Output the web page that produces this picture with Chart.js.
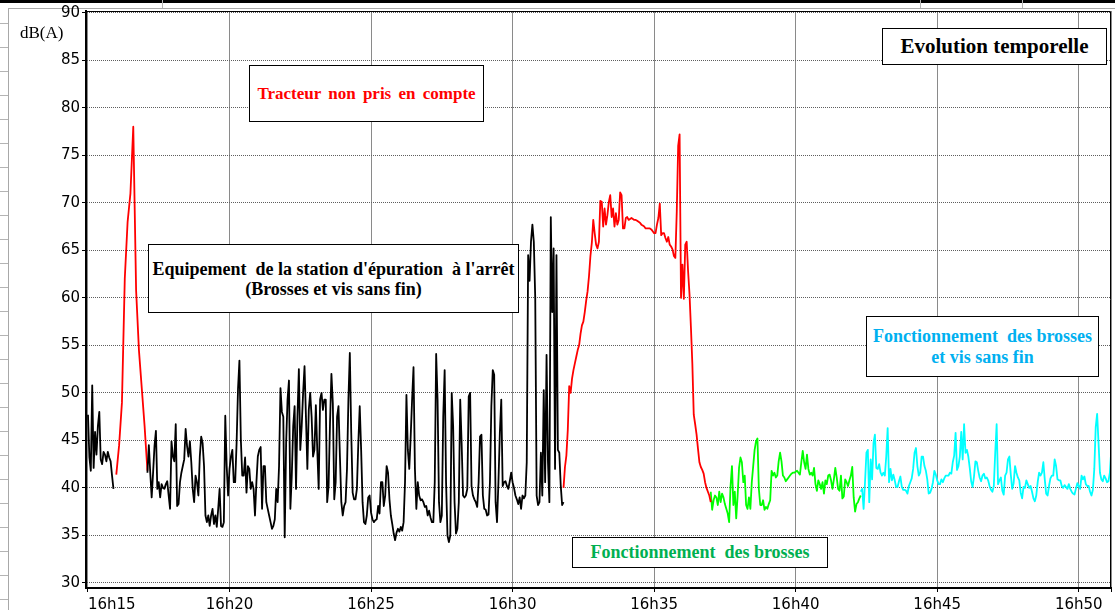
<!DOCTYPE html>
<html lang="fr">
<head>
<meta charset="utf-8">
<title>Evolution temporelle</title>
<script src="https://cdn.jsdelivr.net/npm/chart.js@4.4.1/dist/chart.umd.min.js"></script>
<style>
  html, body { margin: 0; padding: 0; background: #fff; }
  #page { position: relative; width: 1115px; height: 610px; overflow: hidden; background: #fff; }
  #sheetTop { position: absolute; left: 0; top: 0; width: 1115px; height: 3px; background: #000; }
  #rowMarks { position: absolute; left: 0; top: 0; width: 8px; height: 610px;
    background: repeating-linear-gradient(to bottom, transparent 0, transparent 23px, #b4b4b4 23px, #b4b4b4 24px); }
  .colMark { position: absolute; top: 0; width: 1px; height: 8px; background: #b4b4b4; }
  #frame { position: absolute; left: 8px; top: 8px; width: 1200px; height: 700px;
    border-left: 1px solid #a8a8a8; border-top: 1px solid #a8a8a8; }
  canvas { position: absolute; left: 0; top: 0; }
  #unit { position: absolute; left: 20px; top: 23px; font: 17px "Liberation Serif", "Times New Roman", serif; color: #000; }
  .note { position: absolute; box-sizing: border-box; border: 1px solid #000; background: #fff;
    font-family: "Liberation Serif", "Times New Roman", serif; font-weight: bold;
    display: flex; flex-direction: column; justify-content: center; align-items: center;
    white-space: pre; text-align: center; }
</style>
</head>
<body>
<div id="page">
  <div id="sheetTop"></div>
  <div id="rowMarks"></div>
  <div class="colMark" style="left:162px"></div>
  <div class="colMark" style="left:920px"></div>
  <div class="colMark" style="left:1022px"></div>
  <div id="frame"></div>
  <canvas id="chart" width="1115" height="610"></canvas>
  <div id="unit">dB(A)</div>

  <div class="note" style="left:882px;top:28px;width:225px;height:37px;font-size:21px;color:#000;">Evolution temporelle</div>
  <div class="note" style="left:249px;top:65px;width:235px;height:57px;font-size:17px;word-spacing:3px;color:#ff0000;">Tracteur non pris en compte</div>
  <div class="note" style="left:148px;top:244px;width:371px;height:69px;font-size:18px;line-height:20px;color:#000;"><span>Equipement  de la station d'épuration  à l'arrêt</span><span>(Brosses et vis sans fin)</span></div>
  <div class="note" style="left:866px;top:316px;width:233px;height:61px;font-size:18px;line-height:21px;color:#00b0f0;"><span>Fonctionnement  des brosses</span><span>et vis sans fin</span></div>
  <div class="note" style="left:572px;top:537px;width:256px;height:31px;font-size:18px;color:#00b050;">Fonctionnement  des brosses</div>
</div>

<script>
// Sound level readings in dB(A); times are minutes after 16h00.
const FINE_STEP = 0.05;   // minutes between readings (3 s)
const COARSE_STEP = 0.1;  // minutes between readings on the tractor pass-by (6 s)

// Station idle, first minute (black)
const idleEarlyStart = 15.0;
const idleEarly = [
  47.7, 43.2, 41.8, 50.8, 42.1, 45.9, 43.5, 46.5, 48.0, 43.0,
  42.5, 43.8, 43.5, 42.8, 43.8, 43.2, 42.8, 41.3, 39.9
];

// Tractor passing by (red)
const tractorPassStart = 16.0;
const tractorPass = [41.4, 44.5, 49.0, 62.0, 68.0, 71.0, 78.0, 60.8, 54.5, 50.5, 46.5, 41.8];

// Station idle (black)
const idleStart = 17.1;
const idle = [
  41.6, 44.5, 41.6, 39.0, 41.6, 44.4, 46.0, 39.9, 40.6, 39.0,
  40.4, 40.0, 39.9, 40.4, 40.7, 39.2, 37.8, 44.9, 43.3, 42.8,
  46.7, 38.1, 38.3, 40.6, 41.6, 42.3, 43.0, 46.2, 44.4, 43.3,
  44.9, 42.7, 39.9, 38.5, 41.3, 40.6, 39.2, 43.3, 45.4, 44.7,
  42.3, 37.1, 36.4, 37.1, 36.0, 37.1, 37.8, 36.2, 37.1, 35.9,
  37.8, 39.9, 36.0, 35.9, 36.4, 47.6, 42.3, 39.2, 42.0, 43.3,
  44.0, 40.6, 40.6, 44.7, 50.4, 53.4, 45.1, 41.3, 41.3, 43.2,
  39.5, 42.3, 42.0, 39.9, 40.6, 39.9, 37.1, 40.6, 43.3, 44.0,
  44.3, 37.8, 42.3, 42.3, 38.5, 37.8, 37.1, 36.4, 35.7, 36.0,
  36.7, 39.9, 38.5, 42.3, 50.5, 48.0, 47.5, 34.8, 44.7, 49.3,
  51.3, 37.8, 41.3, 46.5, 48.6, 39.9, 47.5, 52.5, 44.0, 46.5,
  50.0, 52.8, 47.5, 42.0, 48.2, 50.0, 47.5, 43.3, 44.0, 48.7,
  44.0, 39.9, 49.3, 50.0, 48.2, 49.3, 49.3, 38.5, 40.2, 46.8,
  52.0, 48.9, 38.8, 40.6, 47.5, 48.6, 43.3, 38.5, 37.1, 38.1,
  38.5, 42.0, 49.3, 54.2, 45.8, 39.5, 38.8, 38.8, 39.9, 44.7,
  48.6, 44.0, 38.5, 36.4, 36.2, 37.1, 39.0, 39.2, 37.4, 36.7,
  36.4, 36.6, 36.7, 38.1, 37.3, 40.6, 40.6, 38.1, 39.2, 42.3,
  41.6, 38.8, 37.1, 36.2, 35.2, 34.5, 35.3, 35.7, 35.4, 35.9,
  35.5, 36.4, 40.6, 49.8, 44.0, 42.0, 45.4, 49.3, 52.7, 42.0,
  37.8, 40.6, 39.2, 38.7, 38.8, 38.5, 38.0, 38.1, 37.1, 37.6,
  36.9, 36.4, 36.4, 40.6, 54.1, 49.3, 38.5, 36.4, 37.1, 47.5,
  52.4, 40.6, 35.0, 34.3, 35.0, 50.0, 46.5, 38.5, 35.2, 35.7,
  38.5, 49.3, 44.7, 39.2, 39.0, 39.2, 39.9, 49.6, 50.0, 40.2,
  39.2, 38.8, 38.5, 38.0, 40.6, 45.4, 45.6, 39.2, 37.8, 37.7,
  37.1, 37.2, 40.6, 48.6, 52.4, 51.9, 38.5, 36.4, 40.6, 45.8,
  49.3, 40.2, 40.6, 40.7, 40.2, 39.9, 40.7, 41.6, 40.6, 40.0,
  39.2, 38.8, 38.3, 39.0, 37.8, 39.2, 38.9
];

// Short burst just before the tractor arrives (black)
const burstStart = 30.45;
const burst = [
  39.2, 42.7, 64.5, 61.8, 65.9, 67.7, 65.9, 60.0, 39.2, 38.2,
  38.5, 43.7, 39.2, 50.3, 40.6, 54.0, 42.7, 38.5, 68.5, 58.5,
  65.2, 42.0, 64.5, 44.0, 43.7, 40.3, 38.2, 38.5
];

// Tractor working nearby (red)
const tractorWorkStart = 31.8;
const tractorWork = [
  40.0, 42.2, 43.4, 46.1, 50.7, 50.0, 51.5, 52.4, 53.1, 53.8,
  54.5, 55.0, 56.2, 57.1, 57.5, 58.5, 59.7, 60.7, 62.3, 64.4,
  65.8, 68.2, 66.8, 65.6, 65.2, 65.9, 70.2, 70.1, 67.5, 69.4,
  67.7, 68.7, 70.1, 70.8, 68.5, 69.4, 67.5, 68.9, 67.7, 68.2,
  71.1, 70.8, 67.3, 67.3, 68.4, 68.5, 68.2, 68.3, 68.4, 68.3,
  68.2, 68.2, 68.1, 68.0, 67.9, 67.7, 67.6, 67.5, 67.3, 67.3,
  67.3, 67.3, 67.2, 67.0, 66.8, 66.8, 67.7, 68.4, 69.9, 66.6,
  66.8, 66.8, 66.3, 65.9, 66.4, 65.6, 65.4, 65.1, 64.4, 64.2,
  69.1, 76.0, 77.2, 60.0, 63.5, 59.9, 65.6, 65.9, 62.8, 60.4,
  56.9, 53.1, 47.7, 46.7, 45.6, 44.1, 42.7, 42.2, 41.9, 41.5,
  40.6, 40.0, 39.6, 39.2, 38.5
];

// Brushes running (green)
const brushesStart = 37.0;
const brushes = [
  39.6, 37.7, 38.7, 39.2, 39.0, 38.2, 39.6, 38.5, 39.4, 39.0,
  38.3, 37.8, 37.3, 36.4, 40.2, 42.3, 38.2, 39.6, 36.8, 39.2,
  42.1, 43.2, 42.7, 40.6, 41.3, 38.2, 37.8, 39.0, 37.8, 40.6,
  42.3, 44.0, 44.9, 45.2, 39.9, 38.2, 38.2, 38.7, 37.7, 38.0,
  37.8, 38.3, 38.7, 41.8, 41.3, 41.6, 41.1, 41.3, 42.8, 43.7,
  42.8, 41.3, 41.1, 40.7, 40.9, 41.1, 41.3, 41.5, 41.6, 41.6,
  41.7, 41.8, 41.6, 41.4, 42.7, 43.9, 42.7, 42.0, 43.5, 42.0,
  41.4, 41.6, 41.3, 42.1, 40.4, 39.7, 40.8, 40.4, 39.9, 40.6,
  39.4, 40.8, 40.4, 41.3, 41.4, 40.8, 39.9, 40.9, 42.1, 41.1,
  39.9, 39.7, 41.3, 38.9, 39.1, 40.9, 40.6, 40.2, 40.8, 41.3,
  42.2, 39.0, 37.5, 38.3, 38.5, 38.9, 39.2
];

// Brushes and screw conveyors running (cyan)
const brushesScrewsStart = 42.3;
const brushesScrews = [
  39.6, 39.9, 37.8, 40.6, 43.7, 44.0, 38.5, 43.0, 40.9, 44.7,
  45.6, 42.1, 42.0, 42.5, 41.6, 41.3, 41.6, 41.3, 43.3, 46.3,
  40.6, 42.0, 40.8, 41.4, 40.8, 40.1, 40.1, 40.7, 41.2, 40.1,
  39.8, 39.8, 39.7, 39.4, 40.2, 40.6, 41.0, 42.0, 43.7, 44.2,
  42.3, 41.3, 41.6, 43.3, 43.3, 42.3, 41.8, 40.9, 39.4, 39.5,
  39.9, 40.6, 41.8, 41.4, 40.8, 40.4, 40.4, 40.9, 40.6, 41.0,
  41.3, 41.3, 41.3, 41.6, 41.5, 42.7, 43.4, 45.8, 41.9, 42.3,
  43.3, 45.9, 43.0, 46.7, 43.7, 44.0, 43.3, 42.1, 40.7, 40.1,
  41.2, 42.8, 42.7, 41.8, 41.1, 40.7, 41.3, 41.5, 41.0, 41.1,
  40.8, 40.2, 39.8, 39.6, 40.2, 43.7, 46.7, 40.4, 40.8, 41.1,
  39.7, 39.3, 41.3, 41.6, 43.0, 43.3, 41.4, 39.9, 40.5, 42.3,
  41.6, 41.1, 40.8, 39.5, 38.9, 40.1, 40.0, 40.8, 40.4, 40.0,
  40.2, 39.6, 38.9, 38.6, 39.2, 40.6, 41.6, 41.3, 41.6, 42.7,
  40.9, 39.4, 39.2, 40.2, 41.0, 41.3, 41.3, 43.0, 42.3, 40.9,
  40.8, 40.8, 40.2, 40.0, 40.3, 40.1, 39.9, 40.4, 39.9, 39.6,
  39.4, 39.3, 39.9, 40.5, 40.2, 39.9, 41.3, 40.9, 41.2, 40.4,
  40.2, 40.2, 39.6, 39.2, 39.8, 42.0, 46.4, 47.8, 44.7, 41.6,
  40.9, 40.7, 41.3, 41.0, 40.6, 40.7, 41.6, 44.0
];

// Axes
const xTickValues = [15, 20, 25, 30, 35, 40, 45, 50];
const xTickLabels = ['16h15', '16h20', '16h25', '16h30', '16h35', '16h40', '16h45', '16h50'];
const yTickValues = [30, 35, 40, 45, 50, 55, 60, 65, 70, 75, 80, 85, 90];
const X_MIN = 14.93, X_MAX = 51.14;
const Y_MIN = 29.47, Y_MAX = 90.18;

function timeline(start, step, levels) {
  return levels.map((v, i) => ({ x: Math.round((start + i * step) * 1000) / 1000, y: v }));
}

function lineSet(points, color, width) {
  return { data: points, borderColor: color, borderWidth: width, pointRadius: 0,
           tension: 0, fill: false, borderJoinStyle: 'round' };
}

// Thin black outline along the top and right of the plotting area
const plotFrame = {
  id: 'plotFrame',
  afterDraw(chart) {
    const { ctx, chartArea: a } = chart;
    ctx.save();
    ctx.strokeStyle = '#000';
    ctx.lineWidth = 1;
    ctx.beginPath();
    ctx.moveTo(a.left, a.top + 0.5);
    ctx.lineTo(a.right - 0.5, a.top + 0.5);
    ctx.lineTo(a.right - 0.5, a.bottom);
    ctx.stroke();
    ctx.restore();
  }
};

const tickFont = { family: '"DejaVu Sans", sans-serif', size: 15 };

new Chart(document.getElementById('chart'), {
  type: 'line',
  data: {
    datasets: [
      lineSet(timeline(idleEarlyStart, FINE_STEP, idleEarly), '#000000', 1.8),
      lineSet(timeline(idleStart, FINE_STEP, idle)
                .concat(timeline(burstStart, FINE_STEP, burst)), '#000000', 1.8),
      lineSet(timeline(tractorPassStart, COARSE_STEP, tractorPass), '#ff0000', 1.8),
      lineSet(timeline(tractorWorkStart, FINE_STEP, tractorWork), '#ff0000', 1.8),
      lineSet(timeline(brushesStart, FINE_STEP, brushes), '#00ff00', 1.8),
      lineSet(timeline(brushesScrewsStart, FINE_STEP, brushesScrews), '#00ffff', 1.8)
    ]
  },
  options: {
    responsive: false,
    animation: false,
    devicePixelRatio: 1,
    layout: { padding: { top: 11, right: 2, left: 0, bottom: 0 } },
    plugins: { legend: { display: false }, tooltip: { enabled: false } },
    scales: {
      x: {
        type: 'linear',
        min: X_MIN,
        max: X_MAX,
        afterFit(s) { s.height = 22; },
        afterBuildTicks(s) {
          s.ticks = xTickValues.map(v => ({ value: v })).concat([{ value: s.max }]);
        },
        ticks: {
          autoSkip: false, maxRotation: 0, minRotation: 0, align: 'inner', padding: 4,
          color: '#000', font: tickFont,
          callback: (v, i) => (i < xTickLabels.length ? xTickLabels[i] : '')
        },
        grid: { color: '#8a8a8a', lineWidth: 1, tickLength: 4, tickColor: '#000' },
        border: { color: '#000', width: 2 }
      },
      y: {
        min: Y_MIN,
        max: Y_MAX,
        afterFit(s) { s.width = 86; },
        afterBuildTicks(s) { s.ticks = yTickValues.map(v => ({ value: v })); },
        ticks: { padding: 2, color: '#000', font: tickFont, callback: v => String(v) },
        grid: { color: '#5e5e5e', lineWidth: 1, tickLength: 4, tickColor: '#000' },
        border: { color: '#000', width: 2, dash: [1, 1] }
      }
    }
  },
  plugins: [plotFrame]
});
</script>
</body>
</html>
